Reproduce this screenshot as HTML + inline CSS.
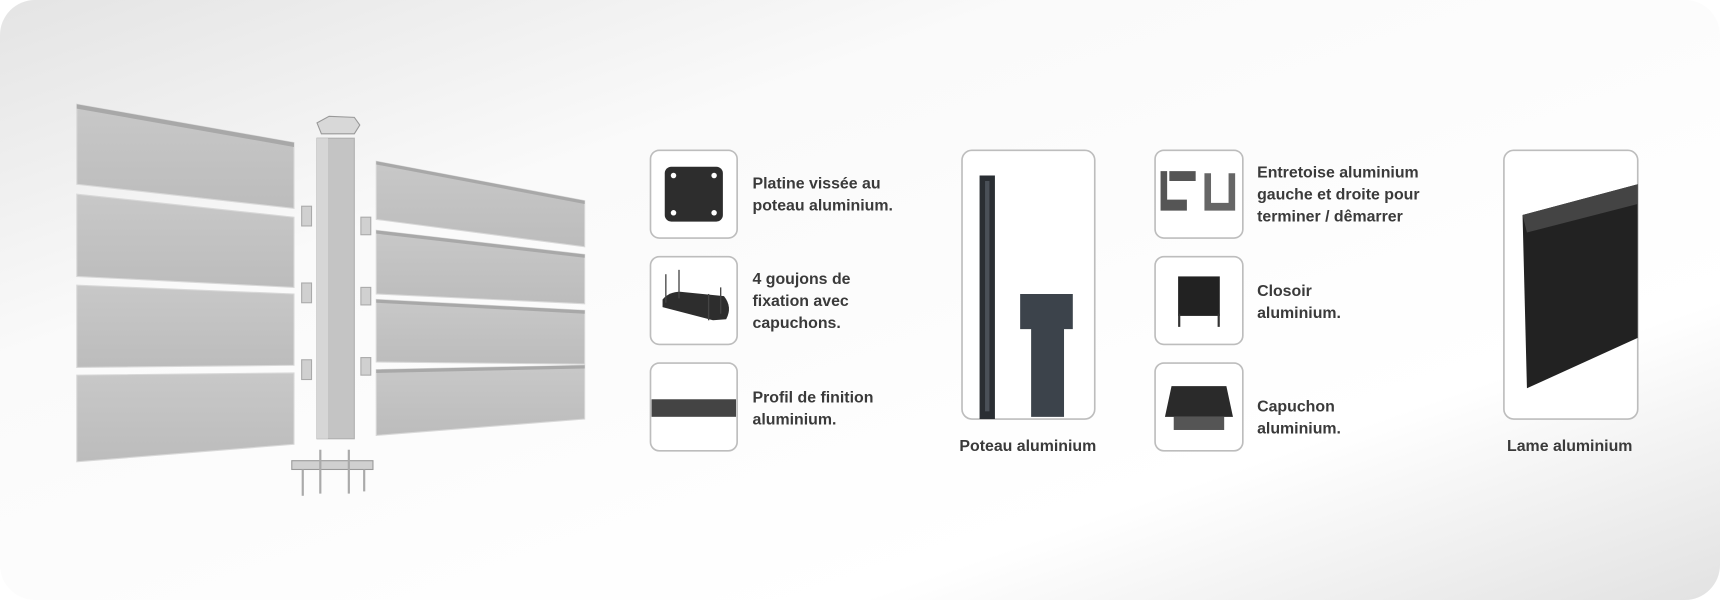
<!DOCTYPE html>
<html><head><meta charset="utf-8"><style>
html,body{margin:0;padding:0;background:#fff;width:1720px;height:600px;overflow:hidden}
svg{display:block}
text{font-family:"Liberation Sans",sans-serif;font-weight:bold;font-size:14.5px;fill:#3a3a3a}
</style></head><body>
<svg width="1720" height="600" viewBox="0 0 1568 547" preserveAspectRatio="none">
<defs>
<linearGradient id="bg" x1="0" y1="0" x2="1" y2="1">
<stop offset="0" stop-color="#e4e4e4"/><stop offset="0.3" stop-color="#fafafa"/><stop offset="0.75" stop-color="#ffffff"/><stop offset="1" stop-color="#e2e2e2"/>
</linearGradient>
<linearGradient id="slat" x1="0" y1="0" x2="0" y2="1"><stop offset="0" stop-color="#c8c8c8"/><stop offset="1" stop-color="#bcbcbc"/></linearGradient>
</defs>
<rect x="0" y="0" width="1568" height="547" rx="32" fill="url(#bg)"/>
<!-- left slats -->
<g fill="url(#slat)" stroke="#d8d8d8" stroke-width="1">
<polygon points="70,95 268,130 268,190 70,168"/>
<polygon points="70,177 268,198 268,262 70,252"/>
<polygon points="70,260 268,268 268,333 70,335"/>
<polygon points="70,342 268,340 268,405 70,421"/>
<polygon points="343,147 533,183 533,225 343,200"/>
<polygon points="343,210 533,232 533,277 343,268"/>
<polygon points="343,273 533,283 533,332 343,330"/>
<polygon points="343,337 533,333 533,382 343,397"/>
</g>
<g fill="#a8a8a8">
<polygon points="70,95 268,130 268,134 70,99"/>
<polygon points="343,147 533,183 533,186 343,150"/>
<polygon points="343,210 533,232 533,235 343,213"/>
<polygon points="343,273 533,283 533,286 343,276"/>
<polygon points="343,337 533,333 533,336 343,340"/>
</g>
<!-- clips -->
<g fill="#d0d0d0" stroke="#aaa">
<rect x="275" y="188" width="9" height="18"/><rect x="275" y="258" width="9" height="18"/><rect x="275" y="328" width="9" height="18"/>
<rect x="329" y="198" width="9" height="16"/><rect x="329" y="262" width="9" height="16"/><rect x="329" y="326" width="9" height="16"/>
</g>
<!-- post -->
<rect x="289" y="126" width="34" height="274" fill="#c4c4c4" stroke="#b0b0b0"/>
<rect x="289" y="126" width="10" height="274" fill="#d6d6d6"/>
<path d="M289,112 L300,106 L323,107 L328,114 L323,122 L293,122 Z" fill="#d8d8d8" stroke="#999"/>
<rect x="266" y="420" width="74" height="8" fill="#d0d0d0" stroke="#999"/>
<g stroke="#aaa" stroke-width="2"><line x1="276" y1="428" x2="276" y2="452"/><line x1="292" y1="410" x2="292" y2="450"/><line x1="318" y1="410" x2="318" y2="450"/><line x1="332" y1="428" x2="332" y2="448"/></g>
<!-- cards -->
<g fill="#fff" stroke="#bdbdbd" stroke-width="1.5">
<rect x="593" y="137" width="79" height="80" rx="8"/>
<rect x="593" y="234" width="79" height="80" rx="8"/>
<rect x="593" y="331" width="79" height="80" rx="8"/>
<rect x="877" y="137" width="121" height="245" rx="9"/>
<rect x="1053" y="137" width="80" height="80" rx="8"/>
<rect x="1053" y="234" width="80" height="80" rx="8"/>
<rect x="1053" y="331" width="80" height="80" rx="8"/>
<rect x="1371" y="137" width="122" height="245" rx="9"/>
</g>
<!-- icons -->
<rect x="606" y="152" width="53" height="50" rx="6" fill="#2d2d2d"/>
<g fill="#fff"><circle cx="614" cy="160" r="2.5"/><circle cx="651" cy="160" r="2.5"/><circle cx="614" cy="194" r="2.5"/><circle cx="651" cy="194" r="2.5"/></g>
<path d="M604,273 Q610,266 620,266 L660,270 Q668,280 662,291 L650,292 L604,280 Z" fill="#2d2d2d"/>
<g stroke="#444" stroke-width="1.2"><line x1="607" y1="250" x2="607" y2="276"/><line x1="619" y1="246" x2="619" y2="272"/><line x1="646" y1="268" x2="646" y2="292"/><line x1="657" y1="262" x2="657" y2="286"/></g>
<rect x="594" y="364" width="77" height="16" fill="#444"/>
<rect x="893" y="160" width="14" height="222" fill="#2a2e33"/>
<rect x="898" y="165" width="4" height="210" fill="#4a5058"/>
<path d="M930,268 L978,268 L978,300 L970,300 L970,380 L940,380 L940,300 L930,300 Z" fill="#3c434b"/>
<path d="M1058,156 L1064,156 L1064,182 L1082,182 L1082,192 L1058,192 Z M1066,156 L1090,156 L1090,165 L1066,165 Z" fill="#555"/>
<path d="M1098,158 L1104,158 L1104,185 L1120,185 L1120,158 L1126,158 L1126,192 L1098,192 Z" fill="#666"/>
<rect x="1074" y="252" width="38" height="36" fill="#222"/>
<rect x="1074" y="286" width="2" height="12" fill="#333"/><rect x="1110" y="286" width="2" height="12" fill="#333"/>
<path d="M1068,352 L1118,352 L1124,380 L1062,380 Z" fill="#2a2a2a"/>
<rect x="1070" y="380" width="46" height="12" fill="#555"/>
<path d="M1388,196 L1493,168 L1493,308 L1392,354 Z" fill="#222"/>
<path d="M1388,196 L1493,168 L1493,186 L1392,212 Z" fill="#444"/>
<!-- text -->
<text x="686" y="172">Platine vissée au</text>
<text x="686" y="192">poteau aluminium.</text>
<text x="686" y="259">4 goujons de</text>
<text x="686" y="279">fixation avec</text>
<text x="686" y="299">capuchons.</text>
<text x="686" y="367">Profil de finition</text>
<text x="686" y="387">aluminium.</text>
<text x="937" y="411" text-anchor="middle">Poteau aluminium</text>
<text x="1146" y="162">Entretoise aluminium</text>
<text x="1146" y="182">gauche et droite pour</text>
<text x="1146" y="202">terminer / dêmarrer</text>
<text x="1146" y="270">Closoir</text>
<text x="1146" y="290">aluminium.</text>
<text x="1146" y="375">Capuchon</text>
<text x="1146" y="395">aluminium.</text>
<text x="1431" y="411" text-anchor="middle">Lame aluminium</text>
</svg>
</body></html>
